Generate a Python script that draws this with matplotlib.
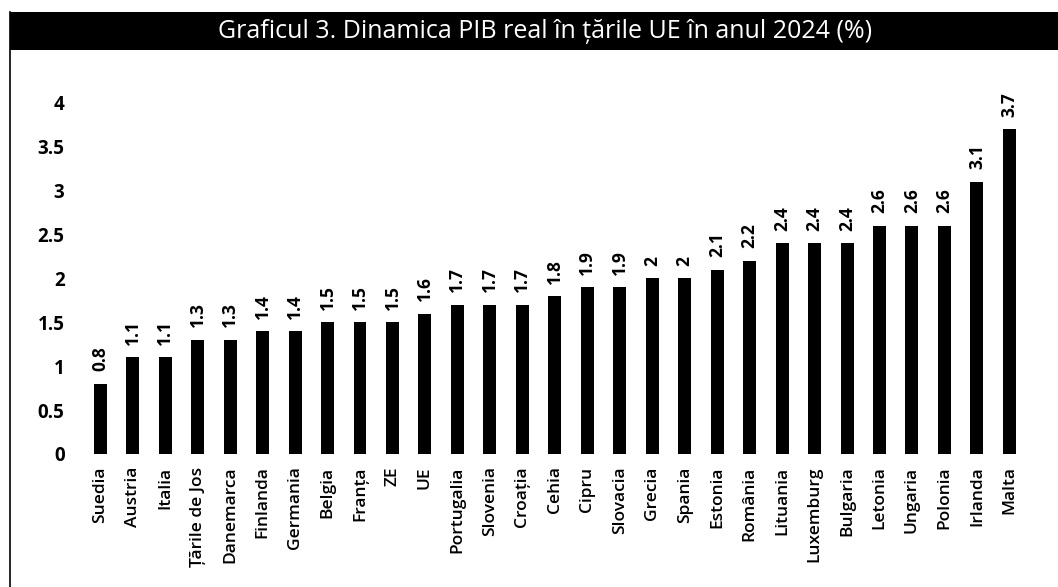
import matplotlib.pyplot as plt
from matplotlib.patches import Rectangle
from matplotlib.lines import Line2D

plt.rcParams['font.family'] = ['Open Sans', 'DejaVu Sans']

TITLE = "Graficul 3. Dinamica PIB real în țările UE în anul 2024 (%)"

tari = ["Suedia", "Austria", "Italia", "Țările de Jos", "Danemarca", "Finlanda",
        "Germania", "Belgia", "Franța", "ZE", "UE", "Portugalia", "Slovenia",
        "Croația", "Cehia", "Cipru", "Slovacia", "Grecia", "Spania", "Estonia",
        "România", "Lituania", "Luxemburg", "Bulgaria", "Letonia", "Ungaria",
        "Polonia", "Irlanda", "Malta"]
pib = [0.8, 1.1, 1.1, 1.3, 1.3, 1.4, 1.4, 1.5, 1.5, 1.5, 1.6, 1.7, 1.7,
       1.7, 1.8, 1.9, 1.9, 2.0, 2.0, 2.1, 2.2, 2.4, 2.4, 2.4, 2.6, 2.6,
       2.6, 3.1, 3.7]
yticks = [0, 0.5, 1, 1.5, 2, 2.5, 3, 3.5, 4]
ytick_labels = ["0", "0.5", "1", "1.5", "2", "2.5", "3", "3.5", "4"]

fig = plt.figure(figsize=(10.58, 5.87), dpi=100)
ax = fig.add_axes([0.0794, 0.2266, 0.890, 0.598])

x = range(len(tari))
ax.bar(x, pib, width=0.4, color="black")
for i, v in zip(x, pib):
    ax.annotate(f"{v:g}", (i, v), xytext=(0, 9), textcoords="offset points",
                rotation=90, ha="center", va="bottom",
                fontsize=12.5, fontweight="bold", annotation_clip=False)

ax.set_xlim(-0.5, len(tari) - 0.5)
ax.set_ylim(0, 4)
ax.set_yticks(yticks)
ax.set_yticklabels(ytick_labels, fontsize=13.5, fontweight="bold")
ax.set_xticks(list(x))
ax.set_xticklabels(tari, rotation=90, fontsize=12.5, fontweight="semibold")
ax.tick_params(length=0, pad=9)
ax.tick_params(axis="y", pad=14)
for s in ax.spines.values():
    s.set_visible(False)

# bara de titlu
fig.patches.append(Rectangle((0.0095, 0.9148), 0.995, 0.0648, transform=fig.transFigure,
                             facecolor="black", edgecolor="none"))
fig.text(0.515, 0.946, TITLE, color="white", fontsize=18, ha="center", va="center")
fig.lines.append(Line2D([0.0095, 0.0095], [0.0, 0.98], transform=fig.transFigure,
                        color="black", linewidth=1.2))

fig.savefig("out.png", dpi=100)
